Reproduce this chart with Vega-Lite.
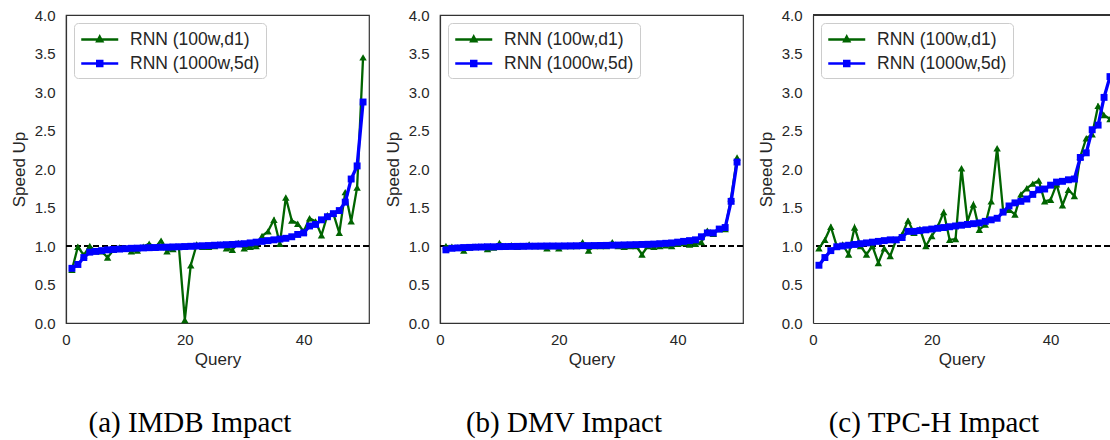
{
"$schema": "https://vega.github.io/schema/vega-lite/v6.json",
"background": "white",
"padding": {"left": 9, "top": 7, "right": 0, "bottom": 0},
"spacing": 12,
"resolve": {"scale": {"color": "independent", "shape": "independent"}, "legend": {"color": "independent", "shape": "independent"}},
"datasets": {
"IMDB": [
{"model":"RNN (100w,d1)","query":1,"speedup":0.69},{"model":"RNN (100w,d1)","query":2,"speedup":0.99},{"model":"RNN (100w,d1)","query":3,"speedup":0.88},{"model":"RNN (100w,d1)","query":4,"speedup":1.0},{"model":"RNN (100w,d1)","query":5,"speedup":0.93},{"model":"RNN (100w,d1)","query":6,"speedup":0.93},{"model":"RNN (100w,d1)","query":7,"speedup":0.85},{"model":"RNN (100w,d1)","query":8,"speedup":0.95},{"model":"RNN (100w,d1)","query":9,"speedup":0.98},{"model":"RNN (100w,d1)","query":10,"speedup":0.97},
{"model":"RNN (100w,d1)","query":11,"speedup":0.93},{"model":"RNN (100w,d1)","query":12,"speedup":0.94},{"model":"RNN (100w,d1)","query":13,"speedup":0.99},{"model":"RNN (100w,d1)","query":14,"speedup":1.03},{"model":"RNN (100w,d1)","query":15,"speedup":0.98},{"model":"RNN (100w,d1)","query":16,"speedup":1.07},{"model":"RNN (100w,d1)","query":17,"speedup":0.93},{"model":"RNN (100w,d1)","query":18,"speedup":0.96},{"model":"RNN (100w,d1)","query":19,"speedup":0.99},{"model":"RNN (100w,d1)","query":20,"speedup":0.04},
{"model":"RNN (100w,d1)","query":21,"speedup":0.75},{"model":"RNN (100w,d1)","query":22,"speedup":1.02},{"model":"RNN (100w,d1)","query":23,"speedup":0.99},{"model":"RNN (100w,d1)","query":24,"speedup":0.99},{"model":"RNN (100w,d1)","query":25,"speedup":1.0},{"model":"RNN (100w,d1)","query":26,"speedup":1.02},{"model":"RNN (100w,d1)","query":27,"speedup":0.97},{"model":"RNN (100w,d1)","query":28,"speedup":0.95},{"model":"RNN (100w,d1)","query":29,"speedup":1.04},{"model":"RNN (100w,d1)","query":30,"speedup":0.97},
{"model":"RNN (100w,d1)","query":31,"speedup":0.99},{"model":"RNN (100w,d1)","query":32,"speedup":1.0},{"model":"RNN (100w,d1)","query":33,"speedup":1.13},{"model":"RNN (100w,d1)","query":34,"speedup":1.19},{"model":"RNN (100w,d1)","query":35,"speedup":1.34},{"model":"RNN (100w,d1)","query":36,"speedup":1.03},{"model":"RNN (100w,d1)","query":37,"speedup":1.63},{"model":"RNN (100w,d1)","query":38,"speedup":1.33},{"model":"RNN (100w,d1)","query":39,"speedup":1.29},{"model":"RNN (100w,d1)","query":40,"speedup":1.19},
{"model":"RNN (100w,d1)","query":41,"speedup":1.36},{"model":"RNN (100w,d1)","query":42,"speedup":1.32},{"model":"RNN (100w,d1)","query":43,"speedup":1.14},{"model":"RNN (100w,d1)","query":44,"speedup":1.40},{"model":"RNN (100w,d1)","query":45,"speedup":1.42},{"model":"RNN (100w,d1)","query":46,"speedup":1.17},{"model":"RNN (100w,d1)","query":47,"speedup":1.70},{"model":"RNN (100w,d1)","query":48,"speedup":1.32},{"model":"RNN (100w,d1)","query":49,"speedup":1.76},{"model":"RNN (100w,d1)","query":50,"speedup":3.45},
{"model":"RNN (1000w,5d)","query":1,"speedup":0.71},{"model":"RNN (1000w,5d)","query":2,"speedup":0.76},{"model":"RNN (1000w,5d)","query":3,"speedup":0.85},{"model":"RNN (1000w,5d)","query":4,"speedup":0.92},{"model":"RNN (1000w,5d)","query":5,"speedup":0.93},{"model":"RNN (1000w,5d)","query":6,"speedup":0.94},{"model":"RNN (1000w,5d)","query":7,"speedup":0.95},{"model":"RNN (1000w,5d)","query":8,"speedup":0.955},{"model":"RNN (1000w,5d)","query":9,"speedup":0.96},{"model":"RNN (1000w,5d)","query":10,"speedup":0.965},
{"model":"RNN (1000w,5d)","query":11,"speedup":0.97},{"model":"RNN (1000w,5d)","query":12,"speedup":0.972},{"model":"RNN (1000w,5d)","query":13,"speedup":0.975},{"model":"RNN (1000w,5d)","query":14,"speedup":0.978},{"model":"RNN (1000w,5d)","query":15,"speedup":0.98},{"model":"RNN (1000w,5d)","query":16,"speedup":0.983},{"model":"RNN (1000w,5d)","query":17,"speedup":0.985},{"model":"RNN (1000w,5d)","query":18,"speedup":0.988},{"model":"RNN (1000w,5d)","query":19,"speedup":0.99},{"model":"RNN (1000w,5d)","query":20,"speedup":0.993},
{"model":"RNN (1000w,5d)","query":21,"speedup":0.996},{"model":"RNN (1000w,5d)","query":22,"speedup":1.0},{"model":"RNN (1000w,5d)","query":23,"speedup":1.003},{"model":"RNN (1000w,5d)","query":24,"speedup":1.006},{"model":"RNN (1000w,5d)","query":25,"speedup":1.01},{"model":"RNN (1000w,5d)","query":26,"speedup":1.013},{"model":"RNN (1000w,5d)","query":27,"speedup":1.017},{"model":"RNN (1000w,5d)","query":28,"speedup":1.02},{"model":"RNN (1000w,5d)","query":29,"speedup":1.025},{"model":"RNN (1000w,5d)","query":30,"speedup":1.03},
{"model":"RNN (1000w,5d)","query":31,"speedup":1.04},{"model":"RNN (1000w,5d)","query":32,"speedup":1.05},{"model":"RNN (1000w,5d)","query":33,"speedup":1.06},{"model":"RNN (1000w,5d)","query":34,"speedup":1.07},{"model":"RNN (1000w,5d)","query":35,"speedup":1.08},{"model":"RNN (1000w,5d)","query":36,"speedup":1.09},{"model":"RNN (1000w,5d)","query":37,"speedup":1.10},{"model":"RNN (1000w,5d)","query":38,"speedup":1.12},{"model":"RNN (1000w,5d)","query":39,"speedup":1.15},{"model":"RNN (1000w,5d)","query":40,"speedup":1.17},
{"model":"RNN (1000w,5d)","query":41,"speedup":1.26},{"model":"RNN (1000w,5d)","query":42,"speedup":1.28},{"model":"RNN (1000w,5d)","query":43,"speedup":1.34},{"model":"RNN (1000w,5d)","query":44,"speedup":1.38},{"model":"RNN (1000w,5d)","query":45,"speedup":1.42},{"model":"RNN (1000w,5d)","query":46,"speedup":1.46},{"model":"RNN (1000w,5d)","query":47,"speedup":1.57},{"model":"RNN (1000w,5d)","query":48,"speedup":1.87},{"model":"RNN (1000w,5d)","query":49,"speedup":2.04},{"model":"RNN (1000w,5d)","query":50,"speedup":2.87}
],
"DMV": [
{"model":"RNN (100w,d1)","query":1,"speedup":1.0},{"model":"RNN (100w,d1)","query":2,"speedup":0.99},{"model":"RNN (100w,d1)","query":3,"speedup":0.98},{"model":"RNN (100w,d1)","query":4,"speedup":0.94},{"model":"RNN (100w,d1)","query":5,"speedup":0.98},{"model":"RNN (100w,d1)","query":6,"speedup":0.99},{"model":"RNN (100w,d1)","query":7,"speedup":0.99},{"model":"RNN (100w,d1)","query":8,"speedup":0.96},{"model":"RNN (100w,d1)","query":9,"speedup":0.98},{"model":"RNN (100w,d1)","query":10,"speedup":1.04},
{"model":"RNN (100w,d1)","query":11,"speedup":1.0},{"model":"RNN (100w,d1)","query":12,"speedup":1.01},{"model":"RNN (100w,d1)","query":13,"speedup":0.99},{"model":"RNN (100w,d1)","query":14,"speedup":1.0},{"model":"RNN (100w,d1)","query":15,"speedup":1.02},{"model":"RNN (100w,d1)","query":16,"speedup":1.0},{"model":"RNN (100w,d1)","query":17,"speedup":1.0},{"model":"RNN (100w,d1)","query":18,"speedup":0.97},{"model":"RNN (100w,d1)","query":19,"speedup":1.0},{"model":"RNN (100w,d1)","query":20,"speedup":0.97},
{"model":"RNN (100w,d1)","query":21,"speedup":1.0},{"model":"RNN (100w,d1)","query":22,"speedup":1.0},{"model":"RNN (100w,d1)","query":23,"speedup":1.0},{"model":"RNN (100w,d1)","query":24,"speedup":1.05},{"model":"RNN (100w,d1)","query":25,"speedup":0.94},{"model":"RNN (100w,d1)","query":26,"speedup":1.0},{"model":"RNN (100w,d1)","query":27,"speedup":1.0},{"model":"RNN (100w,d1)","query":28,"speedup":1.0},{"model":"RNN (100w,d1)","query":29,"speedup":1.05},{"model":"RNN (100w,d1)","query":30,"speedup":1.0},
{"model":"RNN (100w,d1)","query":31,"speedup":0.99},{"model":"RNN (100w,d1)","query":32,"speedup":1.0},{"model":"RNN (100w,d1)","query":33,"speedup":1.0},{"model":"RNN (100w,d1)","query":34,"speedup":0.89},{"model":"RNN (100w,d1)","query":35,"speedup":1.0},{"model":"RNN (100w,d1)","query":36,"speedup":0.99},{"model":"RNN (100w,d1)","query":37,"speedup":1.0},{"model":"RNN (100w,d1)","query":38,"speedup":1.01},{"model":"RNN (100w,d1)","query":39,"speedup":1.0},{"model":"RNN (100w,d1)","query":40,"speedup":1.03},
{"model":"RNN (100w,d1)","query":41,"speedup":1.04},{"model":"RNN (100w,d1)","query":42,"speedup":1.02},{"model":"RNN (100w,d1)","query":43,"speedup":1.03},{"model":"RNN (100w,d1)","query":44,"speedup":1.05},{"model":"RNN (100w,d1)","query":45,"speedup":1.2},{"model":"RNN (100w,d1)","query":46,"speedup":1.16},{"model":"RNN (100w,d1)","query":47,"speedup":1.22},{"model":"RNN (100w,d1)","query":48,"speedup":1.22},{"model":"RNN (100w,d1)","query":49,"speedup":1.62},{"model":"RNN (100w,d1)","query":50,"speedup":2.15},
{"model":"RNN (1000w,5d)","query":1,"speedup":0.95},{"model":"RNN (1000w,5d)","query":2,"speedup":0.97},{"model":"RNN (1000w,5d)","query":3,"speedup":0.975},{"model":"RNN (1000w,5d)","query":4,"speedup":0.98},{"model":"RNN (1000w,5d)","query":5,"speedup":0.982},{"model":"RNN (1000w,5d)","query":6,"speedup":0.985},{"model":"RNN (1000w,5d)","query":7,"speedup":0.987},{"model":"RNN (1000w,5d)","query":8,"speedup":0.99},{"model":"RNN (1000w,5d)","query":9,"speedup":0.99},{"model":"RNN (1000w,5d)","query":10,"speedup":0.992},
{"model":"RNN (1000w,5d)","query":11,"speedup":0.993},{"model":"RNN (1000w,5d)","query":12,"speedup":0.994},{"model":"RNN (1000w,5d)","query":13,"speedup":0.995},{"model":"RNN (1000w,5d)","query":14,"speedup":0.996},{"model":"RNN (1000w,5d)","query":15,"speedup":0.997},{"model":"RNN (1000w,5d)","query":16,"speedup":0.998},{"model":"RNN (1000w,5d)","query":17,"speedup":0.999},{"model":"RNN (1000w,5d)","query":18,"speedup":1.0},{"model":"RNN (1000w,5d)","query":19,"speedup":1.0},{"model":"RNN (1000w,5d)","query":20,"speedup":1.0},
{"model":"RNN (1000w,5d)","query":21,"speedup":1.001},{"model":"RNN (1000w,5d)","query":22,"speedup":1.002},{"model":"RNN (1000w,5d)","query":23,"speedup":1.003},{"model":"RNN (1000w,5d)","query":24,"speedup":1.004},{"model":"RNN (1000w,5d)","query":25,"speedup":1.005},{"model":"RNN (1000w,5d)","query":26,"speedup":1.006},{"model":"RNN (1000w,5d)","query":27,"speedup":1.007},{"model":"RNN (1000w,5d)","query":28,"speedup":1.008},{"model":"RNN (1000w,5d)","query":29,"speedup":1.01},{"model":"RNN (1000w,5d)","query":30,"speedup":1.012},
{"model":"RNN (1000w,5d)","query":31,"speedup":1.014},{"model":"RNN (1000w,5d)","query":32,"speedup":1.016},{"model":"RNN (1000w,5d)","query":33,"speedup":1.018},{"model":"RNN (1000w,5d)","query":34,"speedup":1.02},{"model":"RNN (1000w,5d)","query":35,"speedup":1.022},{"model":"RNN (1000w,5d)","query":36,"speedup":1.025},{"model":"RNN (1000w,5d)","query":37,"speedup":1.03},{"model":"RNN (1000w,5d)","query":38,"speedup":1.035},{"model":"RNN (1000w,5d)","query":39,"speedup":1.04},{"model":"RNN (1000w,5d)","query":40,"speedup":1.05},
{"model":"RNN (1000w,5d)","query":41,"speedup":1.06},{"model":"RNN (1000w,5d)","query":42,"speedup":1.07},{"model":"RNN (1000w,5d)","query":43,"speedup":1.08},{"model":"RNN (1000w,5d)","query":44,"speedup":1.12},{"model":"RNN (1000w,5d)","query":45,"speedup":1.17},{"model":"RNN (1000w,5d)","query":46,"speedup":1.17},{"model":"RNN (1000w,5d)","query":47,"speedup":1.22},{"model":"RNN (1000w,5d)","query":48,"speedup":1.24},{"model":"RNN (1000w,5d)","query":49,"speedup":1.58},{"model":"RNN (1000w,5d)","query":50,"speedup":2.09}
],
"TPCH": [
{"model":"RNN (100w,d1)","query":1,"speedup":0.97},{"model":"RNN (100w,d1)","query":2,"speedup":1.08},{"model":"RNN (100w,d1)","query":3,"speedup":1.25},{"model":"RNN (100w,d1)","query":4,"speedup":1.0},{"model":"RNN (100w,d1)","query":5,"speedup":1.02},{"model":"RNN (100w,d1)","query":6,"speedup":0.89},{"model":"RNN (100w,d1)","query":7,"speedup":1.24},{"model":"RNN (100w,d1)","query":8,"speedup":1.0},{"model":"RNN (100w,d1)","query":9,"speedup":0.89},{"model":"RNN (100w,d1)","query":10,"speedup":1.0},
{"model":"RNN (100w,d1)","query":11,"speedup":0.78},{"model":"RNN (100w,d1)","query":12,"speedup":0.97},{"model":"RNN (100w,d1)","query":13,"speedup":0.87},{"model":"RNN (100w,d1)","query":14,"speedup":1.08},{"model":"RNN (100w,d1)","query":15,"speedup":1.15},{"model":"RNN (100w,d1)","query":16,"speedup":1.33},{"model":"RNN (100w,d1)","query":17,"speedup":1.17},{"model":"RNN (100w,d1)","query":18,"speedup":1.22},{"model":"RNN (100w,d1)","query":19,"speedup":1.0},{"model":"RNN (100w,d1)","query":20,"speedup":1.13},
{"model":"RNN (100w,d1)","query":21,"speedup":1.25},{"model":"RNN (100w,d1)","query":22,"speedup":1.44},{"model":"RNN (100w,d1)","query":23,"speedup":1.08},{"model":"RNN (100w,d1)","query":24,"speedup":1.09},{"model":"RNN (100w,d1)","query":25,"speedup":2.01},{"model":"RNN (100w,d1)","query":26,"speedup":1.32},{"model":"RNN (100w,d1)","query":27,"speedup":1.54},{"model":"RNN (100w,d1)","query":28,"speedup":1.21},{"model":"RNN (100w,d1)","query":29,"speedup":1.28},{"model":"RNN (100w,d1)","query":30,"speedup":1.58},
{"model":"RNN (100w,d1)","query":31,"speedup":2.27},{"model":"RNN (100w,d1)","query":32,"speedup":1.46},{"model":"RNN (100w,d1)","query":33,"speedup":1.47},{"model":"RNN (100w,d1)","query":34,"speedup":1.41},{"model":"RNN (100w,d1)","query":35,"speedup":1.67},{"model":"RNN (100w,d1)","query":36,"speedup":1.75},{"model":"RNN (100w,d1)","query":37,"speedup":1.81},{"model":"RNN (100w,d1)","query":38,"speedup":1.85},{"model":"RNN (100w,d1)","query":39,"speedup":1.58},{"model":"RNN (100w,d1)","query":40,"speedup":1.6},
{"model":"RNN (100w,d1)","query":41,"speedup":1.8},{"model":"RNN (100w,d1)","query":42,"speedup":1.53},{"model":"RNN (100w,d1)","query":43,"speedup":1.73},{"model":"RNN (100w,d1)","query":44,"speedup":1.65},{"model":"RNN (100w,d1)","query":45,"speedup":2.16},{"model":"RNN (100w,d1)","query":46,"speedup":2.40},{"model":"RNN (100w,d1)","query":47,"speedup":2.45},{"model":"RNN (100w,d1)","query":48,"speedup":2.82},{"model":"RNN (100w,d1)","query":49,"speedup":2.70},{"model":"RNN (100w,d1)","query":50,"speedup":2.65},
{"model":"RNN (1000w,5d)","query":1,"speedup":0.75},{"model":"RNN (1000w,5d)","query":2,"speedup":0.85},{"model":"RNN (1000w,5d)","query":3,"speedup":0.94},{"model":"RNN (1000w,5d)","query":4,"speedup":0.99},{"model":"RNN (1000w,5d)","query":5,"speedup":1.0},{"model":"RNN (1000w,5d)","query":6,"speedup":1.01},{"model":"RNN (1000w,5d)","query":7,"speedup":1.02},{"model":"RNN (1000w,5d)","query":8,"speedup":1.03},{"model":"RNN (1000w,5d)","query":9,"speedup":1.04},{"model":"RNN (1000w,5d)","query":10,"speedup":1.05},
{"model":"RNN (1000w,5d)","query":11,"speedup":1.06},{"model":"RNN (1000w,5d)","query":12,"speedup":1.07},{"model":"RNN (1000w,5d)","query":13,"speedup":1.08},{"model":"RNN (1000w,5d)","query":14,"speedup":1.08},{"model":"RNN (1000w,5d)","query":15,"speedup":1.11},{"model":"RNN (1000w,5d)","query":16,"speedup":1.19},{"model":"RNN (1000w,5d)","query":17,"speedup":1.19},{"model":"RNN (1000w,5d)","query":18,"speedup":1.2},{"model":"RNN (1000w,5d)","query":19,"speedup":1.21},{"model":"RNN (1000w,5d)","query":20,"speedup":1.22},
{"model":"RNN (1000w,5d)","query":21,"speedup":1.23},{"model":"RNN (1000w,5d)","query":22,"speedup":1.24},{"model":"RNN (1000w,5d)","query":23,"speedup":1.25},{"model":"RNN (1000w,5d)","query":24,"speedup":1.26},{"model":"RNN (1000w,5d)","query":25,"speedup":1.27},{"model":"RNN (1000w,5d)","query":26,"speedup":1.28},{"model":"RNN (1000w,5d)","query":27,"speedup":1.29},{"model":"RNN (1000w,5d)","query":28,"speedup":1.30},{"model":"RNN (1000w,5d)","query":29,"speedup":1.32},{"model":"RNN (1000w,5d)","query":30,"speedup":1.34},
{"model":"RNN (1000w,5d)","query":31,"speedup":1.36},{"model":"RNN (1000w,5d)","query":32,"speedup":1.44},{"model":"RNN (1000w,5d)","query":33,"speedup":1.52},{"model":"RNN (1000w,5d)","query":34,"speedup":1.56},{"model":"RNN (1000w,5d)","query":35,"speedup":1.58},{"model":"RNN (1000w,5d)","query":36,"speedup":1.61},{"model":"RNN (1000w,5d)","query":37,"speedup":1.67},{"model":"RNN (1000w,5d)","query":38,"speedup":1.73},{"model":"RNN (1000w,5d)","query":39,"speedup":1.74},{"model":"RNN (1000w,5d)","query":40,"speedup":1.79},
{"model":"RNN (1000w,5d)","query":41,"speedup":1.83},{"model":"RNN (1000w,5d)","query":42,"speedup":1.84},{"model":"RNN (1000w,5d)","query":43,"speedup":1.86},{"model":"RNN (1000w,5d)","query":44,"speedup":1.87},{"model":"RNN (1000w,5d)","query":45,"speedup":2.15},{"model":"RNN (1000w,5d)","query":46,"speedup":2.21},{"model":"RNN (1000w,5d)","query":47,"speedup":2.51},{"model":"RNN (1000w,5d)","query":48,"speedup":2.57},{"model":"RNN (1000w,5d)","query":49,"speedup":2.93},{"model":"RNN (1000w,5d)","query":50,"speedup":3.2}
]
},
"hconcat": [
{
"width": 303, "height": 308,
"data": {"name": "IMDB"},
"title": {"text": "(a) IMDB Impact"},
"layer": [
{"mark": {"type": "rule", "color": "black", "strokeWidth": 1.5, "strokeDash": [6, 3]}, "encoding": {"y": {"datum": 1, "type": "quantitative", "title": "Speed Up", "scale": {"domain": [0, 4], "nice": false}, "axis": {"values": [0, 0.5, 1, 1.5, 2, 2.5, 3, 3.5, 4], "format": ".1f", "labelOverlap": false}}}},
{"transform": [{"filter": "datum.model === 'RNN (100w,d1)'"}], "mark": {"type": "line", "color": "#006400", "strokeWidth": 2.3}, "encoding": {"x": {"field": "query", "type": "quantitative", "title": "Query", "scale": {"domain": [0, 51], "nice": false, "zero": false}, "axis": {"values": [0, 20, 40]}}, "y": {"field": "speedup", "type": "quantitative", "title": "Speed Up", "scale": {"domain": [0, 4], "nice": false}, "axis": {"values": [0, 0.5, 1, 1.5, 2, 2.5, 3, 3.5, 4], "format": ".1f", "labelOverlap": false}}}},
{"transform": [{"filter": "datum.model === 'RNN (100w,d1)'"}], "mark": {"type": "point", "shape": "triangle-up", "filled": true, "color": "#006400", "size": 55, "opacity": 1}, "encoding": {"x": {"field": "query", "type": "quantitative", "title": "Query", "scale": {"domain": [0, 51], "nice": false, "zero": false}, "axis": {"values": [0, 20, 40]}}, "y": {"field": "speedup", "type": "quantitative", "title": "Speed Up", "scale": {"domain": [0, 4], "nice": false}, "axis": {"values": [0, 0.5, 1, 1.5, 2, 2.5, 3, 3.5, 4], "format": ".1f", "labelOverlap": false}}}},
{"transform": [{"filter": "datum.model === 'RNN (1000w,5d)'"}], "mark": {"type": "line", "color": "#0000ff", "strokeWidth": 3.3}, "encoding": {"x": {"field": "query", "type": "quantitative", "title": "Query", "scale": {"domain": [0, 51], "nice": false, "zero": false}, "axis": {"values": [0, 20, 40]}}, "y": {"field": "speedup", "type": "quantitative", "title": "Speed Up", "scale": {"domain": [0, 4], "nice": false}, "axis": {"values": [0, 0.5, 1, 1.5, 2, 2.5, 3, 3.5, 4], "format": ".1f", "labelOverlap": false}}}},
{"transform": [{"filter": "datum.model === 'RNN (1000w,5d)'"}], "mark": {"type": "point", "shape": "square", "filled": true, "color": "#0000ff", "size": 48, "opacity": 1}, "encoding": {"x": {"field": "query", "type": "quantitative", "title": "Query", "scale": {"domain": [0, 51], "nice": false, "zero": false}, "axis": {"values": [0, 20, 40]}}, "y": {"field": "speedup", "type": "quantitative", "title": "Speed Up", "scale": {"domain": [0, 4], "nice": false}, "axis": {"values": [0, 0.5, 1, 1.5, 2, 2.5, 3, 3.5, 4], "format": ".1f", "labelOverlap": false}}}},
{"transform": [{"filter": "false"}], "mark": {"type": "point", "filled": false, "strokeWidth": 2.5, "size": 342, "opacity": 1}, "encoding": {"color": {"field": "model", "type": "nominal", "scale": {"domain": ["RNN (100w,d1)", "RNN (1000w,5d)"], "range": ["#006400", "#0000ff"]}, "legend": {"title": null}}, "shape": {"field": "model", "type": "nominal", "scale": {"domain": ["RNN (100w,d1)", "RNN (1000w,5d)"], "range": ["M-1,0H3M1,-0.3L1.27,0.2L0.73,0.2Z", "M-1,0H3M0.73,-0.27H1.27V0.27H0.73Z"]}, "legend": {"title": null}}}}
]
},
{
"width": 303, "height": 308,
"data": {"name": "DMV"},
"title": {"text": "(b) DMV Impact"},
"layer": [
{"mark": {"type": "rule", "color": "black", "strokeWidth": 1.5, "strokeDash": [6, 3]}, "encoding": {"y": {"datum": 1, "type": "quantitative", "title": "Speed Up", "scale": {"domain": [0, 4], "nice": false}, "axis": {"values": [0, 0.5, 1, 1.5, 2, 2.5, 3, 3.5, 4], "format": ".1f", "labelOverlap": false}}}},
{"transform": [{"filter": "datum.model === 'RNN (100w,d1)'"}], "mark": {"type": "line", "color": "#006400", "strokeWidth": 2.3}, "encoding": {"x": {"field": "query", "type": "quantitative", "title": "Query", "scale": {"domain": [0, 51], "nice": false, "zero": false}, "axis": {"values": [0, 20, 40]}}, "y": {"field": "speedup", "type": "quantitative", "title": "Speed Up", "scale": {"domain": [0, 4], "nice": false}, "axis": {"values": [0, 0.5, 1, 1.5, 2, 2.5, 3, 3.5, 4], "format": ".1f", "labelOverlap": false}}}},
{"transform": [{"filter": "datum.model === 'RNN (100w,d1)'"}], "mark": {"type": "point", "shape": "triangle-up", "filled": true, "color": "#006400", "size": 55, "opacity": 1}, "encoding": {"x": {"field": "query", "type": "quantitative", "title": "Query", "scale": {"domain": [0, 51], "nice": false, "zero": false}, "axis": {"values": [0, 20, 40]}}, "y": {"field": "speedup", "type": "quantitative", "title": "Speed Up", "scale": {"domain": [0, 4], "nice": false}, "axis": {"values": [0, 0.5, 1, 1.5, 2, 2.5, 3, 3.5, 4], "format": ".1f", "labelOverlap": false}}}},
{"transform": [{"filter": "datum.model === 'RNN (1000w,5d)'"}], "mark": {"type": "line", "color": "#0000ff", "strokeWidth": 3.3}, "encoding": {"x": {"field": "query", "type": "quantitative", "title": "Query", "scale": {"domain": [0, 51], "nice": false, "zero": false}, "axis": {"values": [0, 20, 40]}}, "y": {"field": "speedup", "type": "quantitative", "title": "Speed Up", "scale": {"domain": [0, 4], "nice": false}, "axis": {"values": [0, 0.5, 1, 1.5, 2, 2.5, 3, 3.5, 4], "format": ".1f", "labelOverlap": false}}}},
{"transform": [{"filter": "datum.model === 'RNN (1000w,5d)'"}], "mark": {"type": "point", "shape": "square", "filled": true, "color": "#0000ff", "size": 48, "opacity": 1}, "encoding": {"x": {"field": "query", "type": "quantitative", "title": "Query", "scale": {"domain": [0, 51], "nice": false, "zero": false}, "axis": {"values": [0, 20, 40]}}, "y": {"field": "speedup", "type": "quantitative", "title": "Speed Up", "scale": {"domain": [0, 4], "nice": false}, "axis": {"values": [0, 0.5, 1, 1.5, 2, 2.5, 3, 3.5, 4], "format": ".1f", "labelOverlap": false}}}},
{"transform": [{"filter": "false"}], "mark": {"type": "point", "filled": false, "strokeWidth": 2.5, "size": 342, "opacity": 1}, "encoding": {"color": {"field": "model", "type": "nominal", "scale": {"domain": ["RNN (100w,d1)", "RNN (1000w,5d)"], "range": ["#006400", "#0000ff"]}, "legend": {"title": null}}, "shape": {"field": "model", "type": "nominal", "scale": {"domain": ["RNN (100w,d1)", "RNN (1000w,5d)"], "range": ["M-1,0H3M1,-0.3L1.27,0.2L0.73,0.2Z", "M-1,0H3M0.73,-0.27H1.27V0.27H0.73Z"]}, "legend": {"title": null}}}}
]
},
{
"width": 297, "height": 308,
"data": {"name": "TPCH"},
"title": {"text": "(c) TPC-H Impact"},
"view": {"stroke": null},
"layer": [
{"mark": {"type": "rule", "color": "black", "strokeWidth": 1.5, "strokeDash": [6, 3]}, "encoding": {"y": {"datum": 1, "type": "quantitative", "title": "Speed Up", "scale": {"domain": [0, 4], "nice": false}, "axis": {"values": [0, 0.5, 1, 1.5, 2, 2.5, 3, 3.5, 4], "format": ".1f", "labelOverlap": false}}}},
{"mark": {"type": "rule", "color": "#333333", "strokeWidth": 1.2}, "encoding": {"y": {"datum": 4, "type": "quantitative", "title": "Speed Up", "scale": {"domain": [0, 4], "nice": false}, "axis": {"values": [0, 0.5, 1, 1.5, 2, 2.5, 3, 3.5, 4], "format": ".1f", "labelOverlap": false}}}},
{"transform": [{"filter": "datum.model === 'RNN (100w,d1)'"}], "mark": {"type": "line", "color": "#006400", "strokeWidth": 2.3, "clip": true}, "encoding": {"x": {"field": "query", "type": "quantitative", "title": "Query", "scale": {"domain": [0, 50], "nice": false, "zero": false}, "axis": {"values": [0, 20, 40]}}, "y": {"field": "speedup", "type": "quantitative", "title": "Speed Up", "scale": {"domain": [0, 4], "nice": false}, "axis": {"values": [0, 0.5, 1, 1.5, 2, 2.5, 3, 3.5, 4], "format": ".1f", "labelOverlap": false}}}},
{"transform": [{"filter": "datum.model === 'RNN (100w,d1)'"}], "mark": {"type": "point", "shape": "triangle-up", "filled": true, "color": "#006400", "size": 55, "opacity": 1, "clip": true}, "encoding": {"x": {"field": "query", "type": "quantitative", "title": "Query", "scale": {"domain": [0, 50], "nice": false, "zero": false}, "axis": {"values": [0, 20, 40]}}, "y": {"field": "speedup", "type": "quantitative", "title": "Speed Up", "scale": {"domain": [0, 4], "nice": false}, "axis": {"values": [0, 0.5, 1, 1.5, 2, 2.5, 3, 3.5, 4], "format": ".1f", "labelOverlap": false}}}},
{"transform": [{"filter": "datum.model === 'RNN (1000w,5d)'"}], "mark": {"type": "line", "color": "#0000ff", "strokeWidth": 3.3, "clip": true}, "encoding": {"x": {"field": "query", "type": "quantitative", "title": "Query", "scale": {"domain": [0, 50], "nice": false, "zero": false}, "axis": {"values": [0, 20, 40]}}, "y": {"field": "speedup", "type": "quantitative", "title": "Speed Up", "scale": {"domain": [0, 4], "nice": false}, "axis": {"values": [0, 0.5, 1, 1.5, 2, 2.5, 3, 3.5, 4], "format": ".1f", "labelOverlap": false}}}},
{"transform": [{"filter": "datum.model === 'RNN (1000w,5d)'"}], "mark": {"type": "point", "shape": "square", "filled": true, "color": "#0000ff", "size": 48, "opacity": 1, "clip": true}, "encoding": {"x": {"field": "query", "type": "quantitative", "title": "Query", "scale": {"domain": [0, 50], "nice": false, "zero": false}, "axis": {"values": [0, 20, 40]}}, "y": {"field": "speedup", "type": "quantitative", "title": "Speed Up", "scale": {"domain": [0, 4], "nice": false}, "axis": {"values": [0, 0.5, 1, 1.5, 2, 2.5, 3, 3.5, 4], "format": ".1f", "labelOverlap": false}}}},
{"transform": [{"filter": "false"}], "mark": {"type": "point", "filled": false, "strokeWidth": 2.5, "size": 342, "opacity": 1}, "encoding": {"color": {"field": "model", "type": "nominal", "scale": {"domain": ["RNN (100w,d1)", "RNN (1000w,5d)"], "range": ["#006400", "#0000ff"]}, "legend": {"title": null}}, "shape": {"field": "model", "type": "nominal", "scale": {"domain": ["RNN (100w,d1)", "RNN (1000w,5d)"], "range": ["M-1,0H3M1,-0.3L1.27,0.2L0.73,0.2Z", "M-1,0H3M0.73,-0.27H1.27V0.27H0.73Z"]}, "legend": {"title": null}}}}
]
}
],
"config": {
"font": "Liberation Sans",
"view": {"stroke": "#333333", "strokeWidth": 1.2},
"axis": {"grid": false, "ticks": false, "domain": true, "domainColor": "#333333", "domainWidth": 1.2, "labelFont": "Liberation Sans", "labelFontSize": 15, "labelColor": "#262626", "labelFlush": false, "titleFont": "Liberation Sans", "titleFontSize": 17, "titleFontWeight": "normal", "titleColor": "#262626"},
"axisX": {"labelPadding": 9, "titlePadding": 4},
"axisY": {"labelPadding": 11, "titlePadding": 6},
"legend": {"orient": "top-left", "offset": 8, "labelFont": "Liberation Sans", "labelFontSize": 17.5, "labelColor": "#262626", "strokeColor": "#cccccc", "fillColor": "white", "cornerRadius": 4, "padding": 6, "rowPadding": 5, "labelOffset": 29, "symbolStrokeWidth": 2.5, "symbolSize": 342},
"title": {"font": "Liberation Serif", "fontSize": 29, "fontWeight": "normal", "color": "black", "orient": "bottom", "offset": 42, "frame": "bounds", "anchor": "middle"}
}
}
